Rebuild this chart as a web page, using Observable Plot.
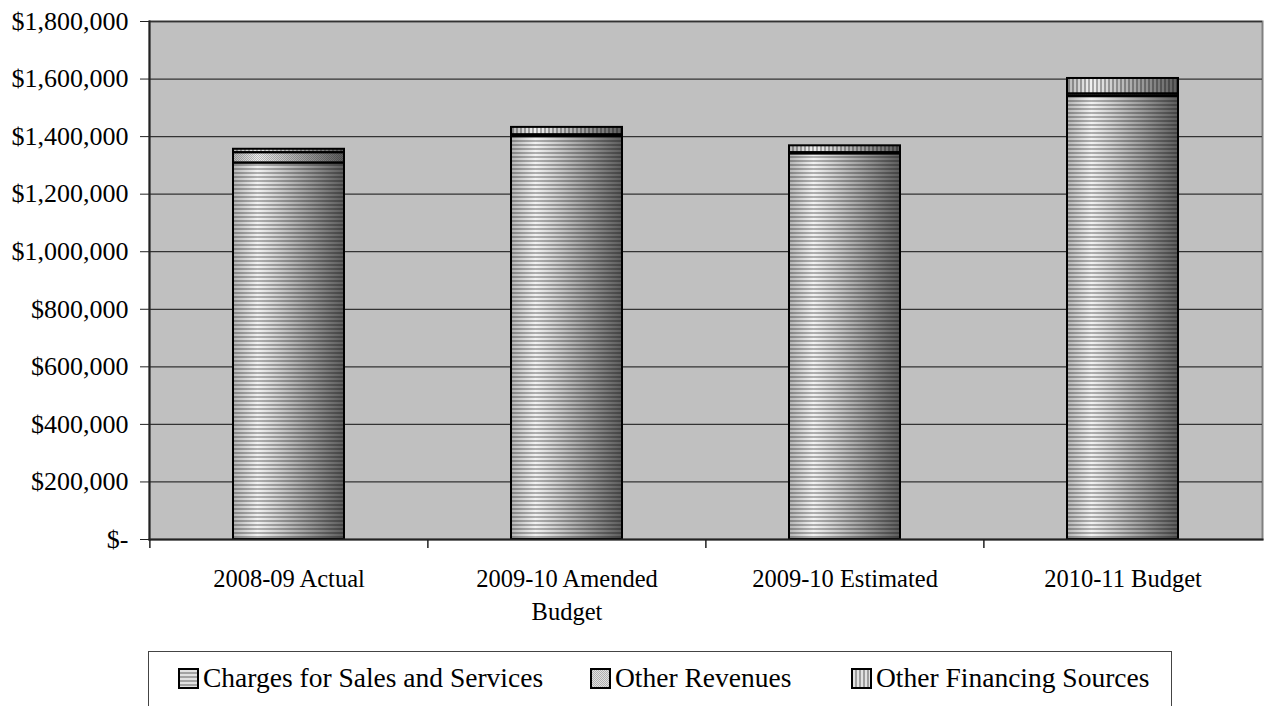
<!DOCTYPE html>
<html><head><meta charset="utf-8">
<script src="https://cdn.jsdelivr.net/npm/d3@7"></script>
<script src="https://cdn.jsdelivr.net/npm/@observablehq/plot@0.6"></script>
<style>
body{margin:0;background:#fff;font-family:"Liberation Serif",serif;overflow:hidden;}
#wrap{position:relative;width:1264px;height:706px;}
#legend{position:absolute;left:148px;top:651px;width:1024px;height:80px;border:1.5px solid #444;box-sizing:border-box;}
.item{position:absolute;top:10px;display:flex;align-items:center;font-size:27.5px;white-space:nowrap;color:#000;}
.item svg{margin-right:4px;}
</style></head><body>
<svg width="0" height="0" style="position:absolute">
<defs>
<linearGradient id="grad" x1="0" x2="1" y1="0" y2="0">
<stop offset="0" stop-color="#b4b4b4"/><stop offset="0.22" stop-color="#f2f2f2"/><stop offset="1" stop-color="#5c5c5c"/>
</linearGradient>
<pattern id="patH" width="8" height="4" patternUnits="userSpaceOnUse"><rect x="0" y="0" width="8" height="2" fill="rgba(0,0,0,0.28)"/></pattern>
<pattern id="patD" width="2" height="2" patternUnits="userSpaceOnUse"><rect x="0" y="0" width="1" height="1" fill="rgba(0,0,0,0.22)"/><rect x="1" y="1" width="1" height="1" fill="rgba(0,0,0,0.22)"/></pattern>
<pattern id="patV" width="4" height="8" patternUnits="userSpaceOnUse"><rect x="0" y="0" width="2" height="8" fill="rgba(0,0,0,0.3)"/></pattern>
</defs></svg>
<div id="wrap"><div id="chart"></div><div id="legend"></div></div>
<script>
const categories = ["2008-09 Actual", "2009-10 Amended Budget", "2009-10 Estimated", "2010-11 Budget"];
const categoryLabels = ["2008-09 Actual", "2009-10 Amended\nBudget", "2009-10 Estimated", "2010-11 Budget"];
const seriesNames = ["Charges for Sales and Services", "Other Revenues", "Other Financing Sources"];
const seriesPatterns = ["url(#patH)", "url(#patD)", "url(#patV)"];
const charges = [1308000, 1400000, 1340000, 1540000];
const otherRevenues = [36000, 6000, 4000, 8000];
const otherFinancing = [12000, 26000, 24000, 54000];
const yTicks = [0, 200000, 400000, 600000, 800000, 1000000, 1200000, 1400000, 1600000, 1800000];

const seriesValues = [charges, otherRevenues, otherFinancing];
const rows = categories.flatMap((c, i) => seriesNames.map((s, k) => ({cat: c, s, k, v: seriesValues[k][i]})));

const W = 1264, H = 645, ML = 149, MR = 2, MT = 21, MB = 106;
const step = (W - ML - MR) / categories.length;
const fmt = d => d === 0 ? "$-" : "$" + d3.format(",")(d);

const chart = Plot.plot({
  width: W, height: H,
  marginLeft: ML, marginRight: MR, marginTop: MT, marginBottom: MB,
  style: {background: "#fff", fontFamily: "'Liberation Serif', serif", color: "#000"},
  x: {domain: categories, paddingInner: 0.6, paddingOuter: 0.3, label: null},
  y: {domain: [0, 1800000], label: null},
  color: {type: "identity"},
  marks: [
    Plot.frame({fill: "#c0c0c0", stroke: "#808080", strokeWidth: 2}),
    Plot.gridY(yTicks.slice(1), {stroke: "#333", strokeOpacity: 1, strokeWidth: 1.3}),
    Plot.barY(rows, Plot.stackY({x: "cat", y: "v", z: "s", fill: "url(#grad)"})),
    Plot.barY(rows, Plot.stackY({x: "cat", y: "v", z: "s", fill: d => seriesPatterns[d.k], stroke: "#000", strokeWidth: 2})),
    Plot.frame({anchor: "left", stroke: "#222", strokeWidth: 2}),
    Plot.frame({anchor: "bottom", stroke: "#222", strokeWidth: 2}),
    Plot.axisY(yTicks, {tickSize: 9, tickPadding: 12, tickFormat: fmt, fontSize: 26, stroke: "#222"}),
    Plot.ruleX(categories, {x: d => d, dx: -step / 2, insetTop: H - MT - MB, insetBottom: -9, stroke: "#222", strokeWidth: 1.5}),
    Plot.axisX(categories, {tickSize: 0, tickPadding: 24, fontSize: 24.5, lineHeight: 1.35, tickFormat: d => categoryLabels[categories.indexOf(d)]})
  ]
});
document.getElementById("chart").appendChild(chart);

const legend = document.getElementById("legend");
const lefts = [29, 441, 702];
seriesNames.forEach((s, k) => {
  const it = document.createElement("div");
  it.className = "item";
  it.style.left = lefts[k] + "px";
  it.innerHTML = `<svg width="21" height="21"><rect x="1" y="1" width="19" height="19" fill="#e2e2e2"/><rect x="1" y="1" width="19" height="19" fill="${seriesPatterns[k]}" stroke="#000" stroke-width="2"/></svg><span>${s}</span>`;
  legend.appendChild(it);
});
</script>
</body></html>
